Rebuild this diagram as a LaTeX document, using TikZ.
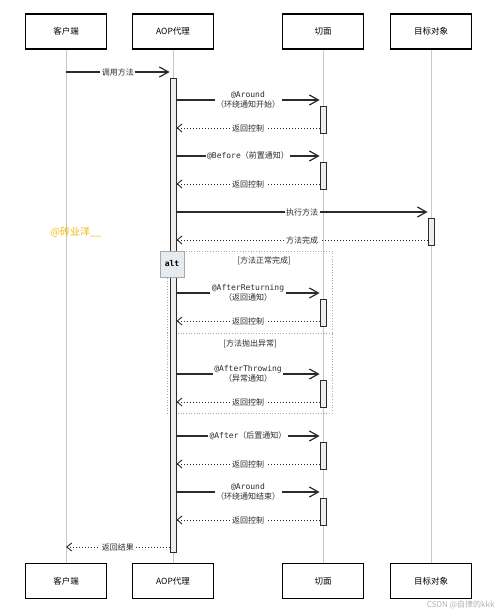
\documentclass[tikz,border=0pt]{standalone}
\usepackage{fontspec}
\setmainfont{Noto Sans CJK SC}
\newfontfamily\monofont{DejaVu Sans Mono}
\usetikzlibrary{arrows.meta, positioning}

\definecolor{inkdark}{HTML}{2B2B2B}
\definecolor{lifegray}{HTML}{C8C8C8}
\definecolor{framegray}{HTML}{A8A8A8}
\definecolor{barfill}{HTML}{EEEEEE}
\definecolor{altfill}{HTML}{E6EBEF}
\definecolor{markorange}{HTML}{F2B705}

\tikzset{
  head/.style={draw=black, line width=1.1pt, fill=white, minimum width=81pt,
    minimum height=35pt, font=\fontsize{8.5}{10}\selectfont},
  life/.style={draw=lifegray, line width=1pt},
  actbar/.style={draw=inkdark, line width=0.8pt, fill=barfill, minimum width=6pt,
    inner sep=0pt},
  msg/.style={draw=inkdark, line width=1.2pt,
    -{Straight Barb[length=9pt,width=10pt,line width=1.2pt]}},
  ret/.style={draw=inkdark, line width=1pt, dotted,
    -{Straight Barb[length=5pt,width=8pt,line width=0.9pt]}},
  lbl/.style={midway, fill=white, inner sep=1.5pt, align=center,
    font=\fontsize{8}{9.5}\selectfont, text=inkdark},
  frame/.style={draw=framegray, line width=0.7pt, dotted},
  alttag/.style={draw=framegray, fill=altfill, minimum width=24pt, minimum height=26pt,
    inner sep=0pt, font=\monofont\bfseries\fontsize{8}{9}\selectfont},
  guard/.style={font=\fontsize{8}{9.5}\selectfont, text=inkdark}
}

\begin{document}
\begin{tikzpicture}[x=1pt, y=-1pt]
\useasboundingbox[fill=white] (0,0) rectangle (500,613);

% participants, top and bottom
\node[head] (cliT) at (66,31.5) {客户端};
\node[head] (aopT) at (173,31.5) {AOP代理};
\node[head] (aspT) at (323,31.5) {切面};
\node[head] (tgtT) at (431,31.5) {目标对象};
\node[head] (cliB) at (66,581) {客户端};
\node[head] (aopB) at (173,581) {AOP代理};
\node[head] (aspB) at (323,581) {切面};
\node[head] (tgtB) at (431,581) {目标对象};

% lifelines
\foreach \p in {cli,aop,asp,tgt}
  \draw[life] (\p T) -- (\p B);

% alt frame
\draw[frame] (167,251) rectangle (332,413);
\draw[frame] (167,333) -- (332,333);
\node[guard] (okguard) at (264,261) {[方法正常完成]};
\node[guard] (exguard) at (250,344) {[方法抛出异常]};

% activation bars
\node[actbar, minimum height=474pt, anchor=north] (aopbar) at (173,78) {};
\node[actbar, minimum height=27pt, anchor=north] (tgtbar) at (431,218) {};
\node[alttag] (alt) at (172,264) {alt};

% client call
\draw[msg] (cliT |- 0,72) -- (aopbar.west |- 0,72) node[lbl] {调用方法};

% advice bars with their returns
\foreach \n/\t in {1/106,2/162,3/299,4/380,5/442,6/498} {
  \node[actbar, minimum height=27pt, anchor=north] (asp\n) at (323,\t) {};
  \draw[ret] (asp\n.west |- 0,\t+22) -- (aopbar.east |- 0,\t+22) node[lbl] {返回控制};
}

% advice calls
\draw[msg] (aopbar.east |- 0,100) -- (asp1.west |- 0,100)
  node[lbl] {{\monofont @Around}\\（环绕通知开始）};
\draw[msg] (aopbar.east |- 0,156) -- (asp2.west |- 0,156)
  node[lbl] {{\monofont @Before}（前置通知）};
\draw[msg] (aopbar.east |- 0,212) -- (tgtbar.west |- 0,212) node[lbl] {执行方法};
\draw[ret] (tgtbar.west |- 0,240) -- (aopbar.east |- 0,240) node[lbl] {方法完成};
\draw[msg] (aopbar.east |- 0,293) -- (asp3.west |- 0,293)
  node[lbl] {{\monofont @AfterReturning}\\（返回通知）};
\draw[msg] (aopbar.east |- 0,374) -- (asp4.west |- 0,374)
  node[lbl] {{\monofont @AfterThrowing}\\（异常通知）};
\draw[msg] (aopbar.east |- 0,436) -- (asp5.west |- 0,436)
  node[lbl] {{\monofont @After}（后置通知）};
\draw[msg] (aopbar.east |- 0,492) -- (asp6.west |- 0,492)
  node[lbl] {{\monofont @Around}\\（环绕通知结束）};

% result back to client
\draw[ret] (aopbar.west |- 0,547) -- (cliT |- 0,547) node[lbl] {返回结果};

% watermarks
\node[text=markorange, font=\fontsize{10}{12}\selectfont] (mark1) at (76,232) {@砖业洋\_\_};
\node[text=black!30, font=\fontsize{8}{10}\selectfont, anchor=east] (mark2) at (498,605) {CSDN @自律的kkk};

\end{tikzpicture}
\end{document}
